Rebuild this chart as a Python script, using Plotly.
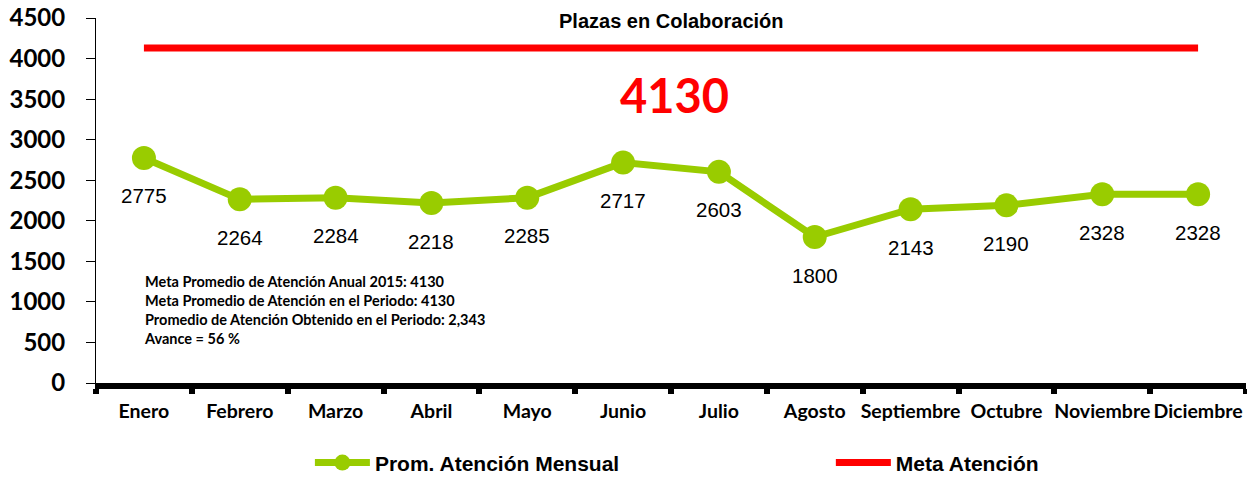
import plotly.graph_objects as go

meses = ["Enero", "Febrero", "Marzo", "Abril", "Mayo", "Junio", "Julio",
         "Agosto", "Septiembre", "Octubre", "Noviembre", "Diciembre"]
prom_atencion = [2775, 2264, 2284, 2218, 2285, 2717, 2603, 1800, 2143, 2190, 2328, 2328]
meta_atencion = [4130] * 12

calibri = "Lato, Carlito, Calibri, sans-serif"
arial = "Liberation Sans, Arial, sans-serif"

fig = go.Figure()
fig.add_trace(go.Scatter(x=meses, y=meta_atencion, mode="lines", name="<b>Meta Atención</b>",
                         line=dict(color="#ff0000", width=7), legend="legend2"))
fig.add_trace(go.Scatter(x=meses, y=prom_atencion, mode="lines+markers",
                         name="<b>Prom. Atención Mensual</b>",
                         line=dict(color="#99cc00", width=7),
                         marker=dict(color="#99cc00", size=24), legend="legend"))

for m, v in zip(meses, prom_atencion):
    fig.add_annotation(x=m, y=v, text=str(v), showarrow=False, yshift=-38,
                       font=dict(family=arial, size=20.5, color="black"))

fig.add_annotation(x=5.54, y=3550, text="<b>4130</b>", showarrow=False,
                   font=dict(family=calibri, size=47, color="#ff0000"))
# the title sits at the very top edge of the page
fig.add_annotation(xref="paper", yref="paper", x=0.5, y=1.027, yanchor="top",
                   text="<b>Plazas en Colaboración</b>", showarrow=False,
                   font=dict(family=arial, size=20, color="black"))
fig.add_annotation(x=-0.02, y=900, xanchor="left", yanchor="middle", align="left",
                   text="<b>Meta Promedio de Atención Anual 2015: 4130<br>"
                        "Meta Promedio de Atención en el Periodo: 4130<br>"
                        "Promedio de Atención Obtenido en el Periodo: 2,343<br>"
                        "Avance = 56 %</b>",
                   showarrow=False,
                   font=dict(family=calibri, size=14.5, color="black"))

legend_common = dict(orientation="h", xanchor="left", yanchor="middle", y=-0.219,
                     itemwidth=55, bgcolor="rgba(0,0,0,0)",
                     font=dict(family=arial, size=21, color="black"))

fig.update_layout(
    width=1247, height=469,
    margin=dict(l=88, r=9, t=10, b=94, autoexpand=False),
    plot_bgcolor="white", paper_bgcolor="white",
    showlegend=True,
    legend=dict(x=0.186, **legend_common),
    legend2=dict(x=0.639, **legend_common),
    xaxis=dict(range=[-0.5, 11.5], showline=True, linecolor="black", linewidth=6,
               ticks="outside", tickson="boundaries", ticklen=5, tickwidth=6,
               tickcolor="black", showgrid=False, tickangle=0, automargin=False,
               ticklabelstandoff=6,
               tickfont=dict(family=calibri, size=19.5, color="black"),
               tickprefix="<b>", ticksuffix="</b>"),
    yaxis=dict(range=[0, 4500], dtick=500, showline=True, linecolor="black",
               linewidth=1, ticks="outside", ticklen=9, tickcolor="black",
               showgrid=False, zeroline=False, automargin=False,
               ticklabelstandoff=16, ticklabeloverflow="allow",
               tickfont=dict(family=calibri, size=24, color="black"),
               tickprefix="<b>", ticksuffix="</b>"),
)

fig.write_html("out.html")
